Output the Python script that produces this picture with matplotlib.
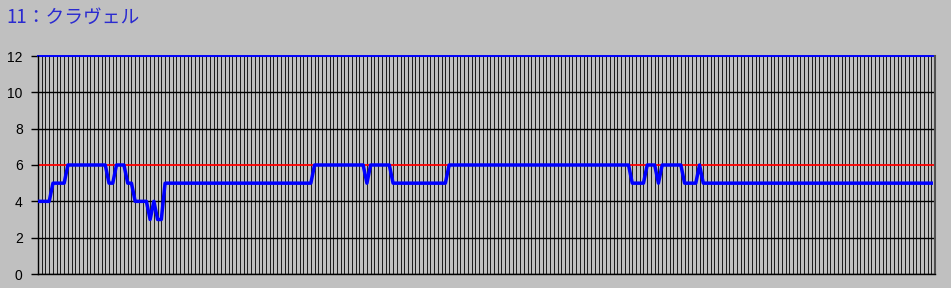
import numpy as np
import matplotlib
matplotlib.use('Agg')
from matplotlib import pyplot as plt

# タイトルと軸
title = '11：クラヴェル'
y_ticks = [0, 2, 4, 6, 8, 10, 12]
n_slots = 240          # 横軸の区切り数
ref_level = 6          # 赤の基準線
top_level = 12         # 青の上限線

# 値は (値, 連続数) の形で読み取り
run_values = [4, 5, 6, 5, 6, 5, 4, 3, 4, 3, 5, 6, 5, 6, 5, 6, 5, 6, 5, 6, 5, 6, 5]
run_lengths = [4, 4, 11, 2, 3, 2, 4, 1, 1, 2, 40, 14, 1, 6, 15, 49, 4, 3, 1, 6, 4, 1, 62]

values = np.repeat(run_values, run_lengths)
x = np.arange(len(values))

bg = '#C0C0C0'
px = 0.72   # 1ピクセル分の線幅 (pt)
fig = plt.figure(figsize=(9.51, 2.88), dpi=100, facecolor=bg)
ax = fig.add_axes([38 / 951, 1 - 274 / 288, (935 - 38) / 951, (274 - 56) / 288])
ax.set_facecolor(bg)

ax.set_xlim(0, n_slots)
ax.set_ylim(0, top_level)

# 縦の細かい線
ax.set_xticks(np.arange(0, n_slots + 1))
ax.tick_params(axis='x', length=0, labelbottom=False)
ax.grid(axis='x', color='#202020', linewidth=px, antialiased=False)

# 横線と目盛 (6 は赤線なので黒線を引かない)
ax.set_yticks(y_ticks)
ax.set_yticklabels([str(v) for v in y_ticks], fontsize=10, family='Liberation Sans')
ax.tick_params(axis='y', length=5, width=1, color='black', pad=6)
for v in y_ticks:
    if v not in (ref_level, top_level):
        ax.axhline(v, color='black', linewidth=1.0, zorder=1.5)

ax.axhline(ref_level, color='#FF0000', linewidth=1.3, zorder=2)
ax.axhline(top_level, color='#0000FF', linewidth=1.4, zorder=2, clip_on=False)

ax.plot(x, values, color='#0000FF', linewidth=2.5, zorder=3)

for side in ['left', 'bottom']:
    ax.spines[side].set_color('black')
    ax.spines[side].set_linewidth(1.0)
ax.spines['right'].set_color('#505050')
ax.spines['right'].set_linewidth(1.5)
ax.spines['top'].set_visible(False)
ax.set_axisbelow(True)

fig.text(6 / 951, 1 - 17 / 288, title, color='#2a2ad0', fontsize=13.5,
         family=['Noto Sans CJK JP', 'DejaVu Sans'], va='center', ha='left')

fig.savefig('out.png', dpi=100, facecolor=bg)
